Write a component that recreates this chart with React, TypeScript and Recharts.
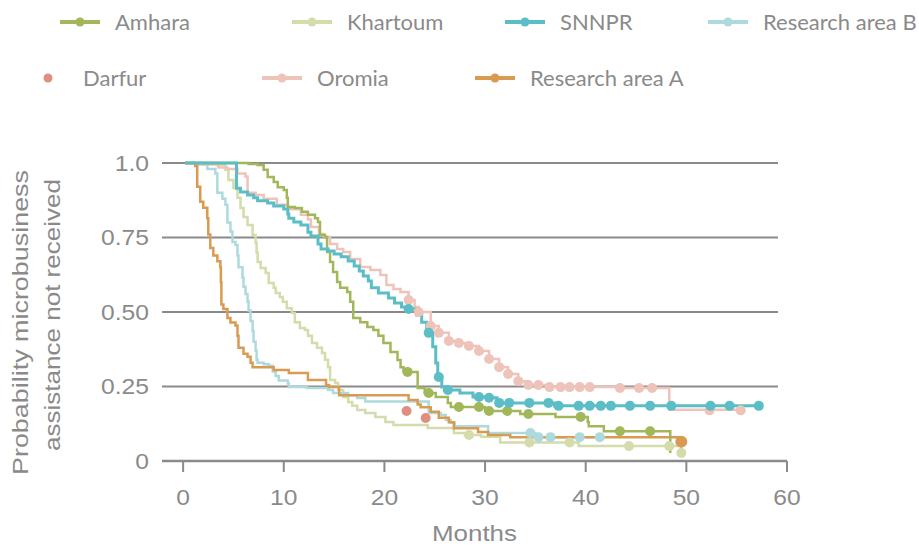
import { ComposedChart, Line, Scatter, XAxis, YAxis, CartesianGrid } from 'recharts'

type Pt = [number, number]

const groups = ['Amhara', 'Khartoum', 'SNNPR', 'Research area B', 'Darfur', 'Oromia', 'Research area A']
const monthTicks = [0, 10, 20, 30, 40, 50, 60]
const probTicks = [0, 0.25, 0.5, 0.75, 1]
const probTickLabels = ['0', '0.25', '0.50', '0.75', '1.0']

// Kaplan-Meier steps: [months, probability from that month on]
const amhara: Pt[] = [
  [0.2, 1], [6.5, 0.997], [7.4, 0.993], [8.0, 0.977], [8.4, 0.953], [9.0, 0.936], [9.4, 0.919],
  [10.0, 0.909], [10.3, 0.883], [10.4, 0.852], [11.1, 0.849], [11.8, 0.836], [12.4, 0.826],
  [13.1, 0.815], [13.4, 0.802], [13.6, 0.758], [14.1, 0.752], [14.3, 0.701], [14.6, 0.668],
  [14.9, 0.634], [15.3, 0.601], [15.6, 0.581], [16.3, 0.567], [16.6, 0.534], [16.9, 0.48],
  [17.6, 0.466], [18.3, 0.45], [18.9, 0.44], [19.4, 0.42], [19.9, 0.396], [20.6, 0.366],
  [21.3, 0.339], [21.6, 0.315], [21.9, 0.299], [23.3, 0.245], [24.0, 0.228], [25.1, 0.215],
  [26.3, 0.195], [26.6, 0.181], [30.0, 0.168], [33.5, 0.158], [37.0, 0.148], [40.2, 0.131],
  [40.3, 0.117], [41.8, 0.1], [48.4, 0.027],
]
const amharaCensored: Pt[] = [
  [22.3, 0.299], [24.4, 0.228], [27.4, 0.181], [29.4, 0.181], [30.4, 0.168], [32.2, 0.168],
  [34.3, 0.158], [39.5, 0.148], [43.4, 0.1], [46.4, 0.1],
]

const khartoum: Pt[] = [
  [0.2, 1], [3.4, 0.993], [4.2, 0.977], [4.5, 0.943], [5.0, 0.916], [5.4, 0.883], [5.7, 0.849],
  [6.0, 0.819], [6.4, 0.792], [6.9, 0.758], [7.2, 0.732], [7.3, 0.7], [7.4, 0.668], [7.7, 0.648],
  [8.2, 0.631], [8.5, 0.597], [9.0, 0.581], [9.2, 0.564], [9.6, 0.55], [9.9, 0.534], [10.3, 0.513],
  [10.8, 0.497], [11.1, 0.466], [11.6, 0.446], [12.1, 0.44], [12.4, 0.42], [12.8, 0.396],
  [13.3, 0.38], [13.8, 0.362], [14.1, 0.34], [14.4, 0.315], [14.6, 0.272], [15.1, 0.262],
  [15.4, 0.238], [15.9, 0.215], [16.4, 0.198], [16.8, 0.185], [17.3, 0.171], [18.1, 0.161],
  [19.1, 0.148], [20.1, 0.131], [20.9, 0.121], [24.3, 0.111], [26.9, 0.094], [28.0, 0.087],
  [29.6, 0.081], [31.5, 0.062], [39.3, 0.05], [49.5, 0.027],
]
const khartoumCensored: Pt[] = [
  [28.4, 0.087], [34.4, 0.062], [38.4, 0.062], [44.3, 0.05], [48.3, 0.05], [49.5, 0.027],
]

const snnpr: Pt[] = [
  [0.2, 1], [5.3, 0.915], [5.7, 0.903], [6.4, 0.893], [7.0, 0.883], [7.4, 0.873], [8.4, 0.866],
  [9.0, 0.856], [10.0, 0.846], [10.4, 0.829], [10.5, 0.815], [11.0, 0.802], [11.7, 0.792],
  [12.4, 0.768], [12.7, 0.755], [13.4, 0.728], [13.7, 0.711], [14.4, 0.705], [15.0, 0.695],
  [15.7, 0.685], [16.4, 0.671], [17.0, 0.654], [17.5, 0.638], [17.9, 0.621], [18.4, 0.604],
  [18.7, 0.581], [19.4, 0.564], [20.4, 0.547], [21.0, 0.53], [21.7, 0.517], [22.1, 0.51],
  [23.2, 0.49], [23.7, 0.466], [24.2, 0.43], [24.8, 0.383], [25.1, 0.329], [25.3, 0.282],
  [25.7, 0.248], [26.3, 0.238], [27.5, 0.228], [28.8, 0.215], [30.2, 0.212], [31.2, 0.195],
  [36.9, 0.185], [57.2, 0.185],
]
const snnprCensored: Pt[] = [
  [22.4, 0.51], [24.4, 0.43], [25.4, 0.282], [26.3, 0.238], [29.4, 0.215], [30.4, 0.212],
  [31.4, 0.195], [32.4, 0.195], [34.4, 0.195], [36.3, 0.195], [37.3, 0.185], [39.3, 0.185],
  [40.4, 0.185], [41.5, 0.185], [42.5, 0.185], [44.4, 0.185], [46.4, 0.185], [48.5, 0.185],
  [52.4, 0.185], [54.3, 0.185], [57.2, 0.185],
]

const areaB: Pt[] = [
  [0.2, 1], [1.2, 0.995], [2.4, 0.98], [3.2, 0.965], [3.4, 0.9], [3.9, 0.88], [4.2, 0.86],
  [4.4, 0.8], [4.7, 0.77], [4.9, 0.735], [5.2, 0.725], [5.4, 0.69], [5.5, 0.65], [5.9, 0.615],
  [6.0, 0.585], [6.2, 0.56], [6.4, 0.535], [6.5, 0.505], [6.7, 0.47], [6.9, 0.435], [7.0, 0.4],
  [7.2, 0.37], [7.3, 0.34], [7.4, 0.33], [8.0, 0.325], [8.5, 0.32], [8.9, 0.3], [9.2, 0.285],
  [9.5, 0.27], [10.4, 0.26], [10.5, 0.248], [12.3, 0.245], [14.4, 0.238], [14.9, 0.228],
  [16.4, 0.221], [17.3, 0.211], [18.1, 0.2], [24.4, 0.161], [25.6, 0.154], [26.1, 0.138],
  [26.6, 0.128], [27.0, 0.117], [30.3, 0.094], [35.0, 0.08], [41.4, 0.08],
]
const areaBCensored: Pt[] = [[34.5, 0.094], [35.3, 0.08], [36.5, 0.08], [39.4, 0.08], [41.4, 0.08]]

const darfurCensored: Pt[] = [[22.2, 0.168], [24.1, 0.144]]

const oromia: Pt[] = [
  [0.2, 1], [2.0, 0.995], [3.5, 0.985], [4.4, 0.98], [5.4, 0.965], [6.2, 0.955], [6.4, 0.9],
  [7.2, 0.893], [8.0, 0.88], [9.3, 0.86], [10.4, 0.845], [11.7, 0.826], [12.4, 0.81],
  [12.7, 0.785], [13.5, 0.762], [14.0, 0.752], [14.6, 0.728], [15.3, 0.711], [15.9, 0.701],
  [16.6, 0.678], [17.6, 0.651], [18.6, 0.641], [19.6, 0.624], [20.2, 0.591], [20.9, 0.577],
  [21.6, 0.567], [22.4, 0.54], [23.0, 0.517], [23.4, 0.5], [24.6, 0.453], [25.4, 0.43],
  [26.4, 0.403], [27.4, 0.396], [28.4, 0.386], [29.4, 0.369], [30.4, 0.342], [31.4, 0.315],
  [32.3, 0.292], [33.3, 0.268], [34.3, 0.255], [36.4, 0.248], [43.4, 0.245], [48.3, 0.172],
  [55.4, 0.172],
]
const oromiaCensored: Pt[] = [
  [22.4, 0.54], [23.4, 0.5], [24.6, 0.453], [25.4, 0.43], [26.4, 0.403], [27.4, 0.396],
  [28.4, 0.386], [29.4, 0.369], [30.4, 0.342], [31.4, 0.315], [32.3, 0.292], [33.3, 0.268],
  [34.3, 0.255], [35.3, 0.255], [36.4, 0.248], [37.5, 0.248], [38.4, 0.248], [39.4, 0.248],
  [40.4, 0.248], [43.4, 0.245], [45.3, 0.245], [46.6, 0.245], [52.3, 0.17], [55.4, 0.17],
]

const areaA: Pt[] = [
  [0.2, 1], [1.2, 0.99], [1.4, 0.92], [1.7, 0.87], [2.0, 0.85], [2.4, 0.815], [2.5, 0.76],
  [2.7, 0.715], [3.0, 0.69], [3.4, 0.67], [3.7, 0.65], [3.75, 0.6], [3.8, 0.525], [4.0, 0.51],
  [4.4, 0.48], [4.7, 0.465], [5.2, 0.455], [5.4, 0.42], [5.5, 0.38], [6.0, 0.36], [6.4, 0.35],
  [6.7, 0.33], [6.9, 0.315], [9.0, 0.305], [10.5, 0.295], [12.4, 0.272], [14.2, 0.255],
  [14.5, 0.248], [15.5, 0.221], [22.4, 0.205], [23.3, 0.19], [23.6, 0.18], [24.6, 0.165],
  [25.4, 0.145], [26.4, 0.13], [26.9, 0.11], [29.3, 0.097], [30.3, 0.087], [32.5, 0.08],
  [49.5, 0.065],
]
const areaACensored: Pt[] = [[49.5, 0.065]]

const COLORS: Record<string, string> = {
  'Amhara': '#a2b65a',
  'Khartoum': '#d3dcaa',
  'SNNPR': '#5bbdc6',
  'Research area B': '#afdadd',
  'Darfur': '#e08e80',
  'Oromia': '#eec3ba',
  'Research area A': '#d99b52',
}

const GREY = '#8a8a8a'
const AXIS_FONT = "'Liberation Sans', Arial, sans-serif"

const rows = (pts: Pt[]) => pts.map(([t, s]) => ({ t, s }))

const curves: { name: string; steps: Pt[]; censored: Pt[]; width: number }[] = [
  { name: 'Khartoum', steps: khartoum, censored: khartoumCensored, width: 2.5 },
  { name: 'Research area B', steps: areaB, censored: areaBCensored, width: 2.5 },
  { name: 'Research area A', steps: areaA, censored: areaACensored, width: 2.5 },
  { name: 'Oromia', steps: oromia, censored: oromiaCensored, width: 2.5 },
  { name: 'Amhara', steps: amhara, censored: amharaCensored, width: 2.5 },
  { name: 'SNNPR', steps: snnpr, censored: snnprCensored, width: 3 },
]

function XTick(props: any) {
  const { x, y, payload } = props
  return (
    <text transform={`translate(${x},${y}) scale(1.12,1)`} textAnchor="middle" dy="0.71em"
      fill={GREY} style={{ fontFamily: AXIS_FONT, fontSize: 22 }}>
      {payload.value}
    </text>
  )
}

function YTick(props: any) {
  const { x, y, payload } = props
  const label = probTickLabels[probTicks.indexOf(payload.value)] ?? String(payload.value)
  return (
    <text transform={`translate(${x},${y}) scale(1.12,1)`} textAnchor="end" dy="0.355em"
      fill={GREY} style={{ fontFamily: AXIS_FONT, fontSize: 22 }}>
      {label}
    </text>
  )
}

const legendSlots = [
  { left: 60, top: 22 }, { left: 292, top: 22 }, { left: 505, top: 22 }, { left: 708, top: 22 },
  { left: 28, top: 78 }, { left: 262, top: 78 }, { left: 475, top: 78 },
]

function ChartLegend() {
  return (
    <>
      {groups.map((g, i) => (
        <div key={g} style={{
          position: 'absolute', left: legendSlots[i].left, top: legendSlots[i].top - 15, height: 30,
          display: 'flex', alignItems: 'center', gap: 15, whiteSpace: 'nowrap',
          fontFamily: 'Lato, sans-serif', fontSize: 22, color: GREY, lineHeight: '30px',
        }}>
          <svg width={40} height={12}>
            {g !== 'Darfur' && <line x1={0} y1={6} x2={40} y2={6} stroke={COLORS[g]} strokeWidth={4} />}
            <circle cx={20} cy={6} r={4.5} fill={COLORS[g]} />
          </svg>
          <span>{g}</span>
        </div>
      ))}
    </>
  )
}

export default function App() {
  return (
    <div style={{ position: 'absolute', left: 0, top: 0, width: 919, height: 546, background: '#fff' }}>
      <ChartLegend />
      <ComposedChart width={919} height={546} margin={{ top: 163, right: 132, bottom: 0, left: 82 }}>
        <CartesianGrid vertical={false} x={162} width={616} stroke={GREY} strokeWidth={2} />
        <XAxis dataKey="t" type="number" domain={[-2.1, 60]} ticks={monthTicks} allowDataOverflow
          height={85} tickSize={11} tickMargin={17}
          axisLine={{ stroke: GREY, strokeWidth: 2.5 }} tickLine={{ stroke: GREY, strokeWidth: 2 }}
          tick={(p: any) => <XTick {...p} />} />
        <YAxis dataKey="s" type="number" domain={[0, 1]} ticks={probTicks} width={80}
          axisLine={false} tickLine={false} tickSize={0} tickMargin={13}
          tick={(p: any) => <YTick {...p} />} />
        {curves.map((c) => (
          <Line key={c.name} data={rows(c.steps)} dataKey="s" type="stepAfter" stroke={COLORS[c.name]}
            strokeWidth={c.width} dot={false} activeDot={false} isAnimationActive={false} />
        ))}
        <Scatter data={rows(darfurCensored)} dataKey="s" isAnimationActive={false}
          shape={(p: any) => <circle cx={p.cx} cy={p.cy} r={5} fill={COLORS['Darfur']} />} />
        {curves.map((c) => (
          <Scatter key={c.name + '-c'} data={rows(c.censored)} dataKey="s" isAnimationActive={false}
            shape={(p: any) => (
              <circle cx={p.cx} cy={p.cy} r={c.name === 'Research area A' ? 6 : 5} fill={COLORS[c.name]} />
            )} />
        ))}
      </ComposedChart>
      <svg width={919} height={546} style={{ position: 'absolute', left: 0, top: 0, pointerEvents: 'none' }}>
        <g fill={GREY} style={{ fontFamily: AXIS_FONT, fontSize: 22 }} textAnchor="middle">
          <text transform="translate(28,322.5) rotate(-90)" textLength={305} lengthAdjust="spacingAndGlyphs">
            Probability microbusiness
          </text>
          <text transform="translate(60,315) rotate(-90)" textLength={272} lengthAdjust="spacingAndGlyphs">
            assistance not received
          </text>
          <text x={474.5} y={541} textLength={85} lengthAdjust="spacingAndGlyphs">Months</text>
        </g>
      </svg>
    </div>
  )
}
